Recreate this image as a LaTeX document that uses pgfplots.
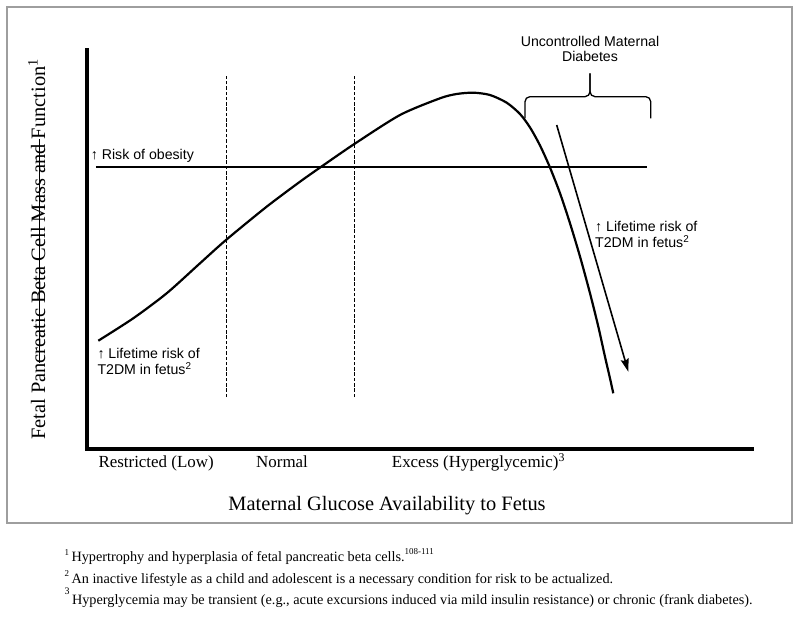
\documentclass[border=0pt]{standalone}
\usepackage{pgfplots}
\pgfplotsset{compat=1.18}
\usepackage{fontspec}
\setmainfont{Liberation Serif}
\newfontfamily\arial{Liberation Sans}
\usetikzlibrary{arrows.meta}

% a rule drawn through the middle of a piece of text
\newcommand\strike[1]{\setbox0\hbox{#1}\rlap{\rule[0.24em]{\wd0}{0.06em}}\box0}

\begin{document}
\begin{tikzpicture}[x=1bp,y=1bp]
\useasboundingbox (0,0) rectangle (800,617);
% grey frame round the figure
\draw[black!38, line width=1.5bp] (7,610) rectangle (792,94);

\begin{axis}[
  at={(87bp,168bp)}, anchor=south west,
  scale only axis, width=665bp, height=399bp,
  xmin=0, xmax=100, ymin=0, ymax=100,
  axis x line=bottom, axis y line=left,
  axis line style={line width=3.2bp, -, line cap=rect},
  xtick=\empty, ytick=\empty,
  clip=false,
]
% beta cell mass curve
\addplot[line width=2.2bp, smooth, tension=0.45] coordinates {
  (1.70,27.14) (6.96,32.76) (11.98,39.02) (16.99,46.54) (20.90,52.38)
  (27.02,60.73) (32.03,66.99) (35.49,71.05) (40.20,76.44) (47.07,83.71)
  (53.08,87.89) (55.59,88.97) (58.09,89.30) (60.60,88.72) (63.11,86.79)
  (65.11,83.96) (66.62,80.58) (68.12,76.07) (69.62,70.55) (71.13,64.09)
  (72.63,56.57) (74.14,48.20) (75.64,39.02) (76.89,30.65) (77.89,23.13)
  (78.65,17.67) (79.14,13.96)
};
% risk of obesity level
\addplot[line width=1.6bp] coordinates {(1.35,70.7) (84.2,70.7)};
% borders of the normal range
\addplot[line width=0.9bp, dash pattern=on 3.5bp off 1.8bp] coordinates {(20.9,13.0) (20.9,94.0)};
\addplot[line width=0.9bp, dash pattern=on 3.5bp off 1.8bp] coordinates {(40.15,13.0) (40.15,94.0)};
% falling risk arrow
\addplot[line width=1.6bp, -{Stealth[length=13bp,width=8bp,inset=2bp]}] coordinates {(70.63,81.20) (81.40,19.37)};
% brace over uncontrolled diabetes
\draw[line width=1.3bp, rounded corners=5bp]
  (axis cs:65.86,82.88) -- (axis cs:65.86,88.30) -- (axis cs:75.64,88.30) -- (axis cs:75.64,94.16);
\draw[line width=1.3bp, rounded corners=5bp]
  (axis cs:84.77,82.88) -- (axis cs:84.77,88.30) -- (axis cs:75.64,88.30) -- (axis cs:75.64,94.16);
\end{axis}

% annotations
\begin{scope}[every node/.style={inner sep=0pt, font=\arial\fontsize{14.2}{15}\selectfont}]
\node[anchor=base west] at (90.7,457.7) {↑ Risk of obesity};
\node[anchor=base west] at (97.3,258.7) {↑ Lifetime risk of};
\node[anchor=base west] at (97.3,242) {T2DM in fetus\textsuperscript{2}};
\node[anchor=base west] at (595,385) {↑ Lifetime risk of};
\node[anchor=base west] at (595,369) {T2DM in fetus\textsuperscript{2}};
\node[anchor=base] at (590,570.3) {Uncontrolled Maternal};
\node[anchor=base] at (590,555.3) {Diabetes};
\end{scope}

% category labels and axis titles
\begin{scope}[every node/.style={inner sep=0pt, font=\fontsize{17}{20}\selectfont}]
\node[anchor=base west] at (98.3,149) {Restricted (Low)};
\node[anchor=base west] at (256,149) {Normal};
\node[anchor=base west] at (391.7,149) {Excess (Hyperglycemic)\textsuperscript{3}};
\end{scope}
\node[inner sep=0pt, anchor=base, font=\fontsize{20.5}{24}\selectfont] at (387,106.3)
  {Maternal Glucose Availability to Fetus};
\node[inner sep=0pt, anchor=base west, rotate=90, font=\fontsize{20.5}{24}\selectfont] at (45,177)
  {Fetal Pan\strike{creatic Beta Cell Mass and }Function\textsuperscript{1}};

% footnotes
\begin{scope}[every node/.style={inner sep=0pt, anchor=base west, font=\fontsize{14.3}{16}\selectfont}]
\node at (64.5,55.3) {\raisebox{0.45em}{\fontsize{9}{10}\selectfont 1}\,Hypertrophy and hyperplasia of fetal pancreatic beta cells.\raisebox{0.5em}{\fontsize{9}{10}\selectfont 108-111}};
\node at (64.5,33.7) {\raisebox{0.45em}{\fontsize{9}{10}\selectfont 2}\,An inactive lifestyle as a child and adolescent is a necessary condition for risk to be actualized.};
\node at (64.5,12) {\raisebox{0.75em}{\fontsize{10}{10}\selectfont 3}\,Hyperglycemia may be transient (e.g., acute excursions induced via mild insulin resistance) or chronic (frank diabetes).};
\end{scope}
\end{tikzpicture}
\end{document}
